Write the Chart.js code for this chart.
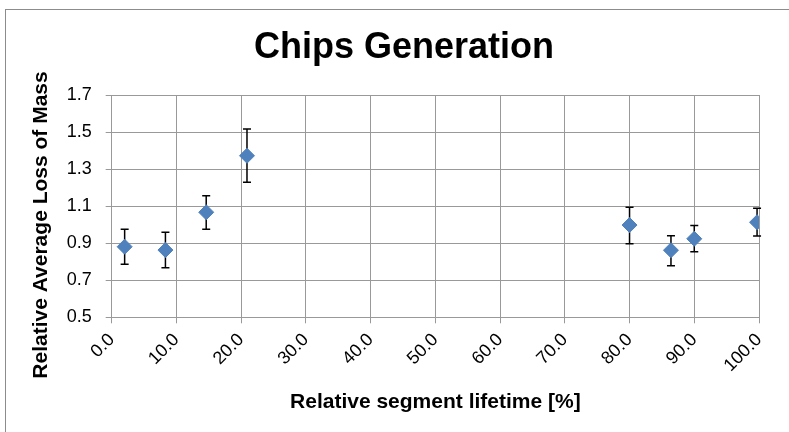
<!DOCTYPE html>
<html>
<head>
<meta charset="utf-8">
<script src="https://cdn.jsdelivr.net/npm/chart.js@4/dist/chart.umd.min.js"></script>
<style>
  body { margin: 0; background: #fff; }
  #wrap { position: relative; width: 789px; height: 432px; }
  #frame { position: absolute; left: 5px; top: 9px; right: -2px; bottom: -2px;
           border-left: 1px solid #8c8c8c; border-top: 1px solid #8c8c8c; pointer-events: none; }
</style>
</head>
<body>
<div id="wrap">
  <canvas id="chipsChart" width="789" height="432"></canvas>
  <div id="frame"></div>
</div>
<script>
// Data
const lifetime = [2.0, 8.3, 14.6, 20.9, 80.0, 86.4, 90.0, 99.7];
const lossOfMass = [0.881, 0.863, 1.067, 1.372, 0.998, 0.862, 0.924, 1.013];
const errUpper = [0.975, 0.959, 1.156, 1.516, 1.094, 0.940, 0.996, 1.088];
const errLower = [0.786, 0.768, 0.975, 1.229, 0.897, 0.778, 0.854, 0.939];
const yAxisTitle = 'Relative Average Loss of Mass';

const FONT = 'Liberation Sans, Arial, sans-serif';

// Draws vertical error bars using the chart's scales
const errorBars = {
    id: 'errorBars',
    beforeDatasetsDraw(chart) {
        const ctx = chart.ctx;
        const xs = chart.scales.x;
        const ys = chart.scales.y;
        ctx.save();
        ctx.strokeStyle = '#000';
        ctx.lineWidth = 1.5;
        lifetime.forEach((x, i) => {
            const px = xs.getPixelForValue(x);
            const top = ys.getPixelForValue(errUpper[i]);
            const bot = ys.getPixelForValue(errLower[i]);
            ctx.beginPath();
            ctx.moveTo(px, top);
            ctx.lineTo(px, bot);
            ctx.moveTo(px - 4, top);
            ctx.lineTo(px + 4, top);
            ctx.moveTo(px - 4, bot);
            ctx.lineTo(px + 4, bot);
            ctx.stroke();
        });
        ctx.restore();
    }
};

// Y axis title, placed a bit lower than the plot centre like the original
const yTitle = {
    id: 'yTitle',
    afterDraw(chart) {
        const ctx = chart.ctx;
        ctx.save();
        ctx.translate(41, 225);
        ctx.rotate(-Math.PI / 2);
        ctx.font = 'bold 21px ' + FONT;
        ctx.fillStyle = '#000';
        ctx.textAlign = 'center';
        ctx.textBaseline = 'middle';
        ctx.fillText(yAxisTitle, 0, 0);
        ctx.restore();
    }
};

const chartCanvas = document.getElementById('chipsChart').getContext('2d');
new Chart(chartCanvas, {
    type: 'scatter',
    data: {
        datasets: [{
            label: 'Chips Generation',
            data: lifetime.map((x, i) => ({ x: x, y: lossOfMass[i] })),
            backgroundColor: '#4F81BD',
            borderColor: '#4F81BD',
            pointStyle: 'rectRot',
            pointRadius: 7.5,
            pointHoverRadius: 7.5,
        }],
    },
    options: {
        responsive: false,
        animation: false,
        layout: { padding: { left: 49, right: 30, top: 0, bottom: 0 } },
        plugins: {
            legend: { display: false },
            tooltip: { enabled: false },
            title: {
                display: true,
                text: 'Chips Generation',
                color: '#000',
                font: { family: FONT, size: 36, weight: 'bold' },
                padding: { top: 26, bottom: 25.8 },
            },
        },
        scales: {
            x: {
                type: 'linear',
                min: 0,
                max: 100,
                ticks: {
                    stepSize: 10,
                    minRotation: 45,
                    maxRotation: 45,
                    padding: 6,
                    color: '#000',
                    font: { family: FONT, size: 18 },
                    callback: v => v.toFixed(1),
                },
                grid: { color: '#999', lineWidth: 1, tickLength: 6 },
                border: { color: '#999' },
                title: {
                    display: true,
                    text: 'Relative segment lifetime [%]',
                    color: '#000',
                    font: { family: FONT, size: 21, weight: 'bold' },
                    padding: { top: 4, bottom: 17 },
                },
                afterFit: scale => { scale.height = 114.7; },
            },
            y: {
                min: 0.5,
                max: 1.7,
                ticks: {
                    stepSize: 0.2,
                    padding: 14,
                    color: '#000',
                    font: { family: FONT, size: 18 },
                    callback: v => v.toFixed(1),
                },
                grid: { color: '#999', lineWidth: 1, tickLength: 6 },
                border: { color: '#999' },
                title: { display: false },
                afterFit: scale => { scale.width = 62.7; },
            },
        },
    },
    plugins: [errorBars, yTitle],
});
</script>
</body>
</html>
